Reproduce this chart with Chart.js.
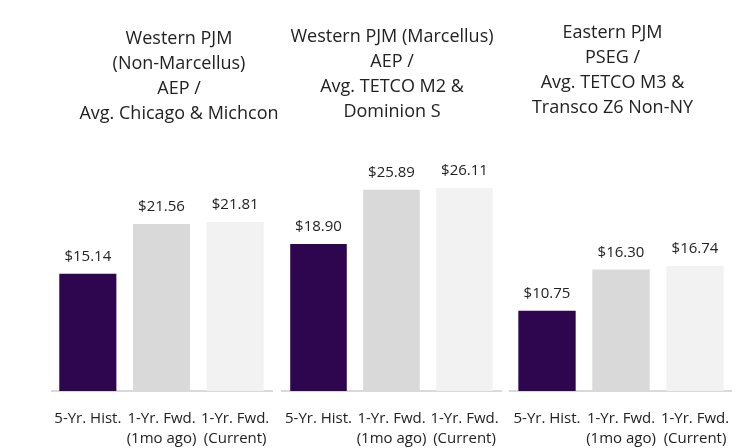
<!DOCTYPE html>
<html>
<head>
<meta charset="utf-8">
<script src="https://cdn.jsdelivr.net/npm/chart.js@4.4.1/dist/chart.umd.min.js"></script>
<style>
  html, body { margin: 0; padding: 0; background: #fff; }
  #wrap { position: relative; width: 754px; height: 448px; overflow: hidden; }
  #wrap canvas { position: absolute; top: 0; }
</style>
</head>
<body>
<div id="wrap">
  <canvas id="chartWestNonMarc" width="256" height="448" style="left:51px"></canvas>
  <canvas id="chartWestMarc" width="222" height="448" style="left:281px"></canvas>
  <canvas id="chartEast" width="239" height="448" style="left:493px"></canvas>
</div>
<script>
// ── Data ──────────────────────────────────────────────────
const categories = [['5-Yr. Hist.'], ['1-Yr. Fwd.', '(1mo ago)'], ['1-Yr. Fwd.', '(Current)']];

const titleWestNonMarc = ['Western PJM', '(Non-Marcellus)', 'AEP /', 'Avg. Chicago & Michcon'];
const titleWestMarc    = ['Western PJM (Marcellus)', 'AEP /', 'Avg. TETCO M2 &', 'Dominion S'];
const titleEast        = ['Eastern PJM', 'PSEG /', 'Avg. TETCO M3 &', 'Transco Z6 Non-NY'];

const westNonMarcValues = [15.14, 21.56, 21.81];
const westMarcValues    = [18.90, 25.89, 26.11];
const eastValues        = [10.75, 16.30, 16.74];

const barColors = ['#2e0650', '#d9d9d9', '#f2f2f2'];
const FONT = '"Open Sans", "Noto Sans", sans-serif';

// ── Value labels above bars ───────────────────────────────
const valueLabels = {
  id: 'valueLabels',
  afterDatasetsDraw(chart) {
    const ctx = chart.ctx;
    const meta = chart.getDatasetMeta(0);
    ctx.save();
    ctx.font = '15px ' + FONT;
    ctx.fillStyle = '#222';
    ctx.textAlign = 'center';
    ctx.textBaseline = 'middle';
    meta.data.forEach((bar, i) => {
      const v = chart.data.datasets[0].data[i];
      ctx.fillText('$' + v.toFixed(2), bar.x, bar.y - 17);
    });
    ctx.restore();
  }
};

// ── Panel builder ─────────────────────────────────────────
function makePanel(id, title, values, yMax, titleTop, sideL, sideR) {
  new Chart(document.getElementById(id), {
    type: 'bar',
    data: {
      labels: categories,
      datasets: [{
        data: values,
        backgroundColor: barColors,
        borderWidth: 0,
        barPercentage: 0.775,
        categoryPercentage: 1,
      }],
    },
    options: {
      responsive: false,
      animation: false,
      devicePixelRatio: 1,
      layout: { padding: 0 },
      scales: {
        x: {
          // invisible tick marks give the gap under the axis line
          grid: { display: true, drawOnChartArea: false, drawTicks: true, tickLength: 18, color: 'rgba(0,0,0,0)' },
          border: { display: true, color: '#d9d9d9', width: 2 },
          ticks: {
            color: '#222',
            font: { family: FONT, size: 15, lineHeight: '20px' },
            padding: 0,
            autoSkip: false,
            maxRotation: 0,
            minRotation: 0,
          },
          afterFit: s => { s.height = 57; },
        },
        y: {
          min: 0,
          max: yMax,
          position: 'left',
          grid: { display: false, drawTicks: false },
          border: { display: false },
          ticks: { display: false },
          afterFit: s => { s.width = sideL; },
        },
        yR: {
          position: 'right',
          grid: { display: false, drawTicks: false },
          border: { display: false },
          ticks: { display: false },
          afterFit: s => { s.width = sideR; },
        },
      },
      plugins: {
        legend: { display: false },
        tooltip: { enabled: false },
        title: {
          display: true,
          text: title,
          color: '#222',
          font: { family: FONT, size: 18, weight: 'normal', lineHeight: '25px' },
          padding: { top: titleTop, bottom: 150 - titleTop - 100 },
        },
      },
    },
    plugins: [valueLabels],
  });
}

makePanel('chartWestNonMarc', titleWestNonMarc, westNonMarcValues, 31.1, 26, 0, 35);
makePanel('chartWestMarc',    titleWestMarc,    westMarcValues,    31.0, 24, 1, 2);
makePanel('chartEast',        titleEast,        eastValues,        32.3, 20, 17, 0);
</script>
</body>
</html>
